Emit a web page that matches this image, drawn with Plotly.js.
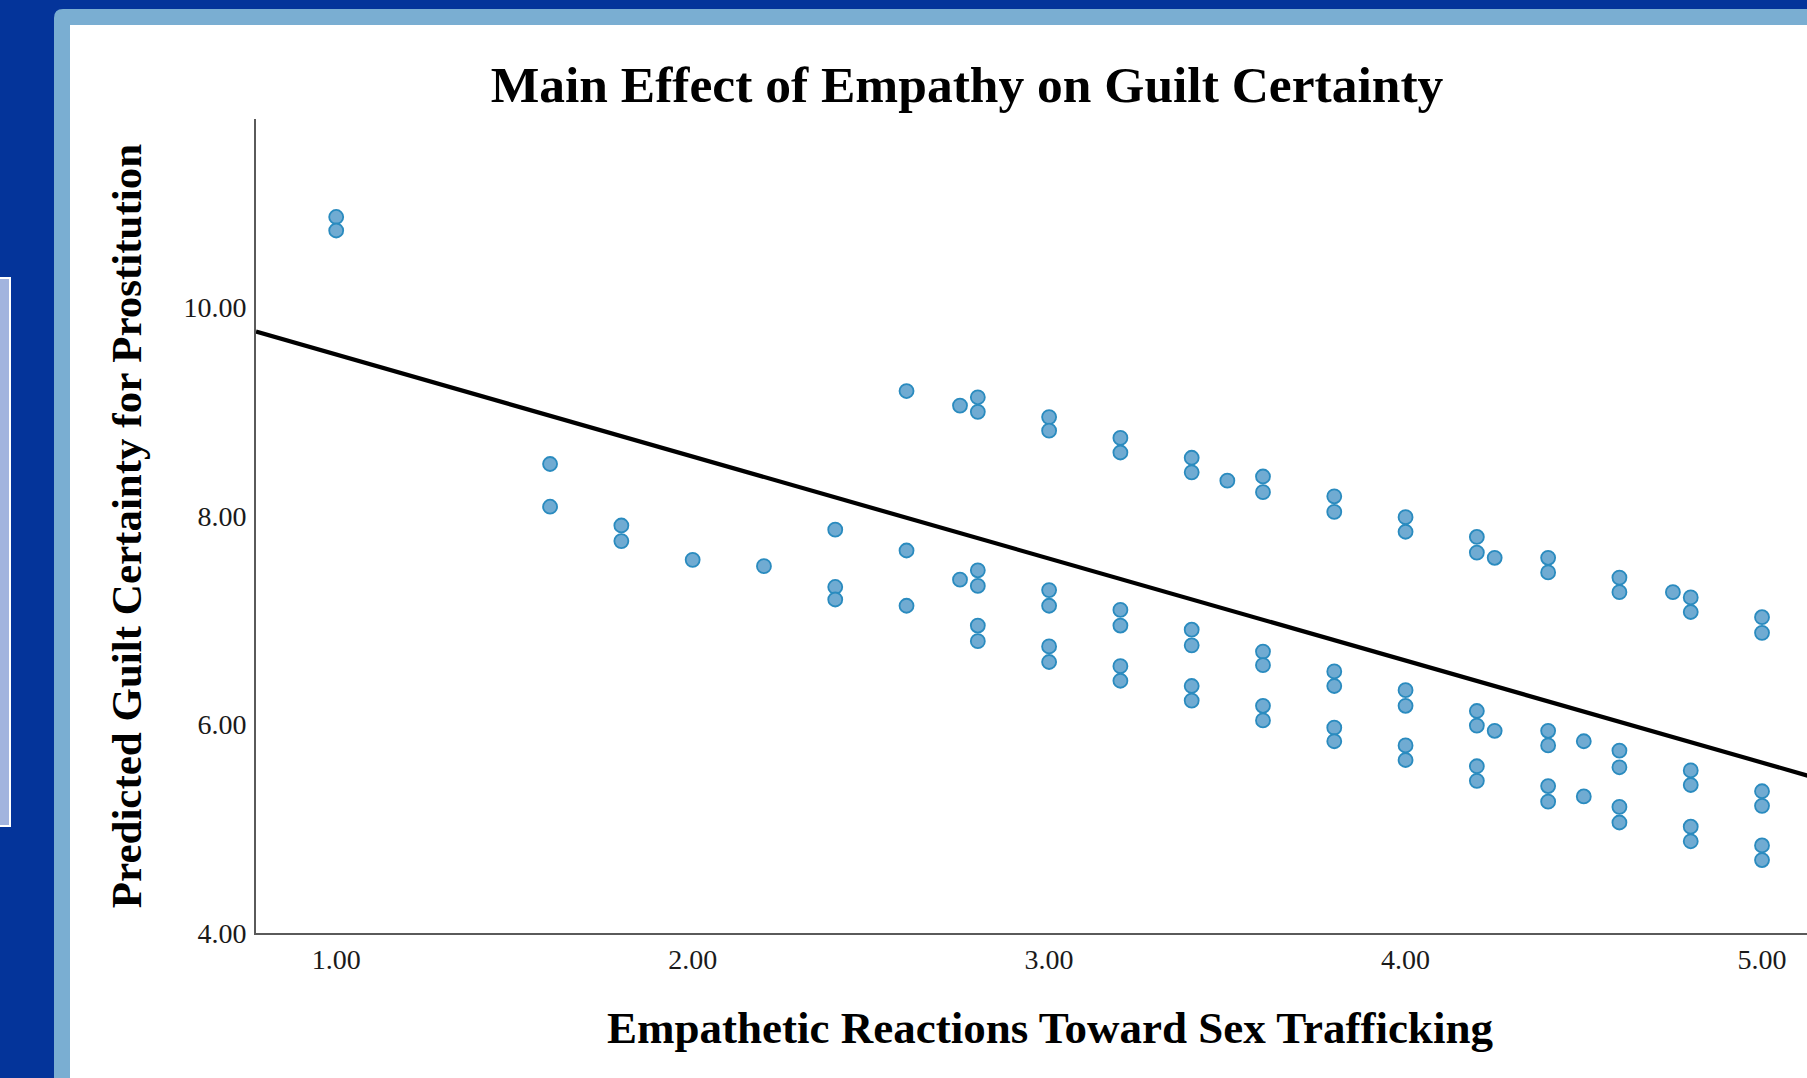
<!DOCTYPE html>
<html>
<head>
<meta charset="utf-8">
<script src="https://cdn.plot.ly/plotly-3.0.1.min.js"></script>
<style>
  html, body { margin: 0; padding: 0; overflow: hidden; background: #04349a; }
  #chart { width: 1844px; height: 1078px; }
</style>
</head>
<body>
<div id="chart"></div>
<script>
// ---- data ----
const empathyX = [
  1.0, 1.0,
  1.6, 1.6,
  1.8, 1.8,
  2.0,
  2.2,
  2.4, 2.4, 2.4,
  2.6, 2.6, 2.6,
  2.75, 2.75,
  2.8, 2.8, 2.8, 2.8, 2.8, 2.8,
  3.0, 3.0, 3.0, 3.0, 3.0, 3.0,
  3.2, 3.2, 3.2, 3.2, 3.2, 3.2,
  3.4, 3.4, 3.4, 3.4, 3.4, 3.4,
  3.5,
  3.6, 3.6, 3.6, 3.6, 3.6, 3.6,
  3.8, 3.8, 3.8, 3.8, 3.8, 3.8,
  4.0, 4.0, 4.0, 4.0, 4.0, 4.0,
  4.2, 4.2, 4.2, 4.2, 4.2, 4.2,
  4.25, 4.25,
  4.4, 4.4, 4.4, 4.4, 4.4, 4.4,
  4.5, 4.5,
  4.6, 4.6, 4.6, 4.6, 4.6, 4.6,
  4.75,
  4.8, 4.8, 4.8, 4.8, 4.8, 4.8,
  5.0, 5.0, 5.0, 5.0, 5.0, 5.0
];
const guiltY = [
  10.87, 10.74,
  8.50, 8.09,
  7.91, 7.76,
  7.58,
  7.52,
  7.87, 7.32, 7.20,
  9.20, 7.67, 7.14,
  9.06, 7.39,
  9.14, 9.00, 7.48, 7.33, 6.95, 6.80,
  8.95, 8.82, 7.29, 7.14, 6.75, 6.60,
  8.75, 8.61, 7.10, 6.95, 6.56, 6.42,
  8.56, 8.42, 6.91, 6.76, 6.37, 6.23,
  8.34,
  8.38, 8.23, 6.70, 6.57, 6.18, 6.04,
  8.19, 8.04, 6.51, 6.37, 5.97, 5.84,
  7.99, 7.85, 6.33, 6.18, 5.80, 5.66,
  7.80, 7.65, 6.13, 5.99, 5.60, 5.46,
  7.60, 5.94,
  7.60, 7.46, 5.94, 5.80, 5.41, 5.26,
  5.84, 5.31,
  7.41, 7.27, 5.75, 5.59, 5.21, 5.06,
  7.27,
  7.22, 7.08, 5.56, 5.42, 5.02, 4.88,
  7.03, 6.88, 5.36, 5.22, 4.84, 4.70
];
// fitted regression line (end points)
const fitX = [0.775, 5.23];
const fitY = [9.77, 5.41];

const xTickVals = [1, 2, 3, 4, 5];
const xTickText = ['1.00', '2.00', '3.00', '4.00', '5.00'];
const yTickVals = [4, 6, 8, 10];
const yTickText = ['4.00', '6.00', '8.00', '10.00'];

const chartTitle = 'Main Effect of Empathy on Guilt Certainty';
const xTitle = 'Empathetic Reactions Toward Sex Trafficking';
const yTitle = 'Predicted Guilt Certainty for Prostitution';

// ---- layout geometry (pixels) ----
const W = 1844, H = 1078;
const mL = 256, mR = 0, mT = 119, mB = 145;
const plotW = W - mL - mR, plotH = H - mT - mB;
const px = v => (v - mL) / plotW;          // pixel x -> paper x
const py = v => (H - mB - v) / plotH;      // pixel y -> paper y

const serif = "'Liberation Serif', 'Times New Roman', Times, serif";

const r = 9; // rounded corner of the light-blue frame
const fx0 = px(54), fx1 = px(1900), fy0 = py(9), fy1 = py(1100);
const rx = r / plotW, ry = r / plotH;
const framePath = `M ${fx0} ${fy1} L ${fx0} ${fy0 - ry} Q ${fx0} ${fy0} ${fx0 + rx} ${fy0} L ${fx1} ${fy0} L ${fx1} ${fy1} Z`;

const shapes = [
  { type: 'path', xref: 'paper', yref: 'paper', path: framePath,
    fillcolor: '#7aaed2', line: { width: 0 }, layer: 'below' },
  { type: 'rect', xref: 'paper', yref: 'paper',
    x0: px(70), x1: px(1900), y0: py(25), y1: py(1100),
    fillcolor: '#ffffff', line: { width: 0 }, layer: 'below' },
  { type: 'rect', xref: 'paper', yref: 'paper',
    x0: px(-4), x1: px(10), y0: py(278), y1: py(826),
    fillcolor: '#a2b4de', line: { color: '#ffffff', width: 2 }, layer: 'below' }
];

const traces = [
  {
    type: 'scatter', mode: 'markers', x: empathyX, y: guiltY,
    marker: { size: 14, color: '#70abd2', line: { color: '#2a8bbf', width: 1.8 } },
    hoverinfo: 'x+y', showlegend: false
  },
  {
    type: 'scatter', mode: 'lines', x: fitX, y: fitY,
    line: { color: '#000000', width: 4.2 },
    hoverinfo: 'skip', showlegend: false
  }
];

const layout = {
  width: W, height: H,
  margin: { l: mL, r: mR, t: mT, b: mB, pad: 0 },
  paper_bgcolor: '#04349a',
  plot_bgcolor: 'rgba(0,0,0,0)',
  shapes: shapes,
  showlegend: false,
  title: {
    text: '<b>' + chartTitle + '</b>',
    font: { family: serif, size: 51.5, color: '#000000' },
    xref: 'paper', x: px(967), xanchor: 'center',
    yref: 'container', y: 1 - 84 / H, yanchor: 'middle'
  },
  xaxis: {
    range: [0.775, 5.23],
    showgrid: false, zeroline: false,
    showline: true, linecolor: '#5a5a5a', linewidth: 2,
    ticks: '', tickvals: xTickVals, ticktext: xTickText,
    ticklabelstandoff: 0,
    tickfont: { family: serif, size: 28, color: '#1a1a1a' },
    title: {
      text: '<b>' + xTitle + '</b>',
      font: { family: serif, size: 45, color: '#000000' },
      standoff: 38
    },
    fixedrange: true
  },
  yaxis: {
    range: [4, 11.81],
    showgrid: false, zeroline: false,
    showline: true, linecolor: '#5a5a5a', linewidth: 2,
    ticks: '', tickvals: yTickVals, ticktext: yTickText,
    ticklabelstandoff: 2,
    tickfont: { family: serif, size: 28, color: '#1a1a1a' },
    title: {
      text: '<b>' + yTitle + '</b>',
      font: { family: serif, size: 43, color: '#000000' },
      standoff: 28
    },
    fixedrange: true
  }
};

Plotly.newPlot('chart', traces, layout, { displayModeBar: false, staticPlot: true });
</script>
</body>
</html>
